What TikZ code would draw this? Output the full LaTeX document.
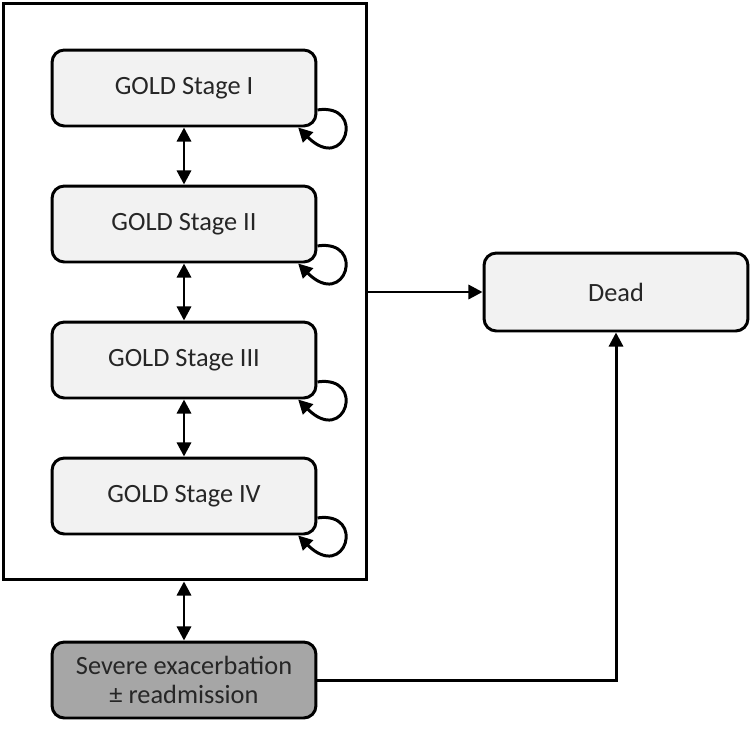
\documentclass[tikz,border=0pt]{standalone}
\usepackage{fontspec}
\setmainfont{Carlito}
\usetikzlibrary{arrows.meta}

\definecolor{stagegray}{HTML}{F2F2F2}
\definecolor{severegray}{HTML}{A6A6A6}
\definecolor{textgray}{HTML}{262626}

\begin{document}
\begin{tikzpicture}[x=0.02cm,y=-0.02cm,
    line width=1.7pt,
    >={Triangle[length=8pt,width=8pt]},
    state/.style={draw,rounded corners=7pt,fill=stagegray,text=textgray,
      minimum width=5.28cm,minimum height=1.52cm,
      font=\fontsize{15}{17}\selectfont,align=center},
    selfloop/.style={->}]
      \useasboundingbox (0,0) rectangle (750,730);
      \node[draw,minimum width=7.28cm,minimum height=11.54cm] (outer) at (185,291.5) {};
      \node[state] (s1) at (184,88) {GOLD Stage I};
      \node[state] (s2) at (184,224) {GOLD Stage II};
      \node[state] (s3) at (184,360) {GOLD Stage III};
      \node[state] (s4) at (184,496) {GOLD Stage IV};
      \node[state,minimum height=1.56cm] (dead) at (616,292) {Dead};
      \node[state,fill=severegray] (severe) at (184,680) {Severe exacerbation\\± readmission};
      % transitions between stages
      \draw[<->] (s1) -- (s2);
      \draw[<->] (s2) -- (s3);
      \draw[<->] (s3) -- (s4);
      \draw[<->] (severe.north |- outer.south) -- (severe);
      % staying in the same stage
      \foreach \s in {s1,s2,s3,s4}
        \draw[selfloop] ([yshift=10pt]\s.south east) .. controls +(28pt,4pt) and +(27pt,-27pt) .. ([xshift=-11pt]\s.south east);
      % death
      \draw[->] (dead.west -| outer.east) -- (dead);
      \draw[->] (severe.east) -| (dead.south);
    \end{tikzpicture}
\end{document}
